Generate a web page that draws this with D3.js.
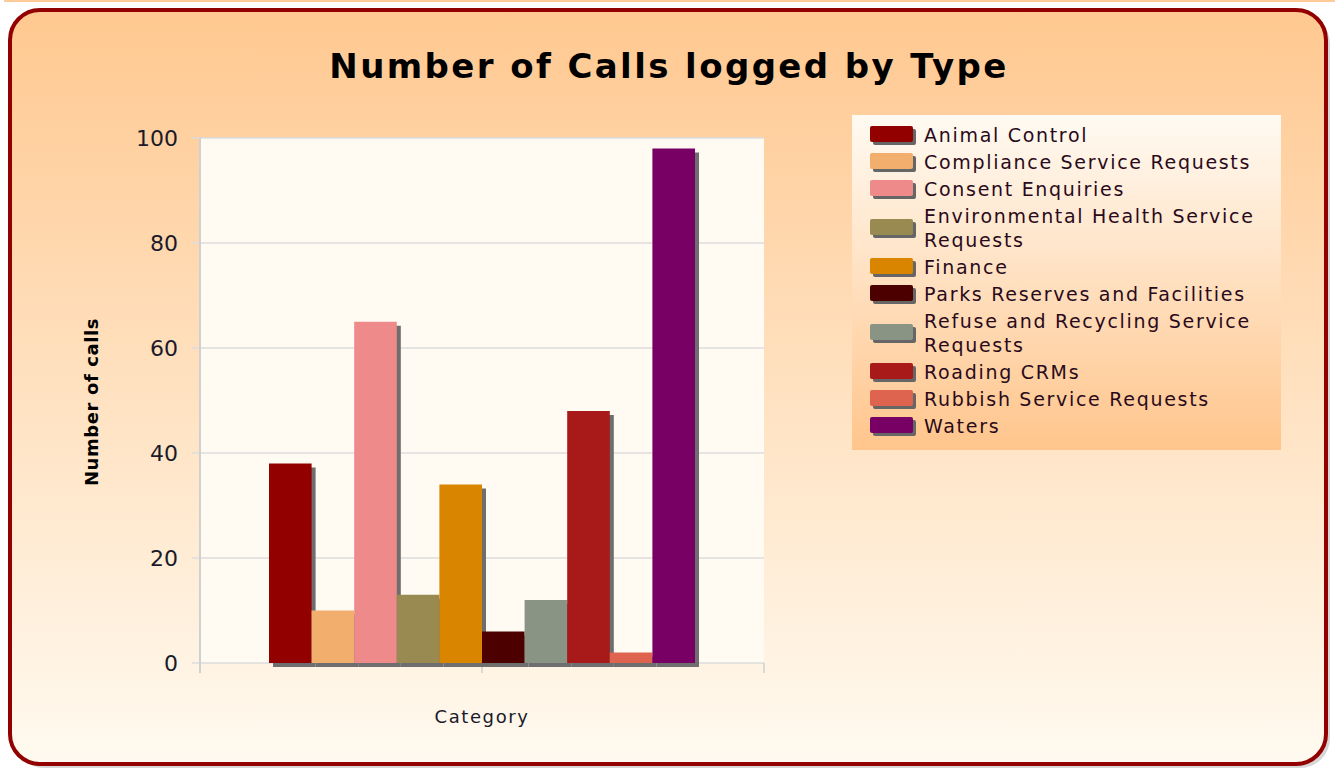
<!DOCTYPE html>
<html>
<head>
<meta charset="utf-8">
<script src="https://cdn.jsdelivr.net/npm/d3@7"></script>
<style>
  body { margin: 0; background: #fff; }
  text { font-family: "DejaVu Sans", Verdana, sans-serif; }
</style>
</head>
<body>
<div id="chart"></div>
<script>
// data
const categories = ['Animal Control', 'Compliance Service Requests', 'Consent Enquiries',
  'Environmental Health Service Requests', 'Finance', 'Parks Reserves and Facilities',
  'Refuse and Recycling Service Requests', 'Roading CRMs', 'Rubbish Service Requests', 'Waters'];
const values = [38, 10, 65, 13, 34, 6, 12, 48, 2, 98];
const colors = ['#920000', '#F2AE6C', '#EE8A8A', '#988A50', '#D98500', '#4D0000',
  '#8A9485', '#A81919', '#DE6450', '#780064'];
const legendLines = [['Animal Control'], ['Compliance Service Requests'], ['Consent Enquiries'],
  ['Environmental Health Service', 'Requests'], ['Finance'], ['Parks Reserves and Facilities'],
  ['Refuse and Recycling Service', 'Requests'], ['Roading CRMs'], ['Rubbish Service Requests'], ['Waters']];
const yTicks = [0, 20, 40, 60, 80, 100];

const W = 1335, H = 772;
const plot = {left: 200, top: 138, right: 764, bottom: 663};

const svg = d3.select('#chart').append('svg')
    .attr('width', W)
    .attr('height', H);

const defs = svg.append('defs');
const bgGrad = defs.append('linearGradient').attr('id', 'bg-grad')
    .attr('x1', 0).attr('y1', 0).attr('x2', 0).attr('y2', 1);
bgGrad.append('stop').attr('offset', 0).attr('stop-color', '#FFC890');
bgGrad.append('stop').attr('offset', 1).attr('stop-color', '#FFFAF0');

const legGrad = defs.append('linearGradient').attr('id', 'leg-grad')
    .attr('x1', 0).attr('y1', 0).attr('x2', 0).attr('y2', 1);
legGrad.append('stop').attr('offset', 0).attr('stop-color', '#FFFAF2');
legGrad.append('stop').attr('offset', 1).attr('stop-color', '#FFC58C');

// thin strip at the very top
svg.append('rect').attr('x', 4).attr('y', 0).attr('width', W - 4).attr('height', 2).attr('fill', '#FFCC99');

// card shadow + card
svg.append('rect')
    .attr('x', 14).attr('y', 14).attr('width', 1316).attr('height', 754)
    .attr('rx', 30).attr('fill', '#bbb').attr('opacity', 0.6);
svg.append('rect')
    .attr('x', 10).attr('y', 10).attr('width', 1316).attr('height', 754)
    .attr('rx', 30)
    .attr('fill', 'url(#bg-grad)')
    .attr('stroke', '#920000')
    .attr('stroke-width', 4);

// title
svg.append('text')
    .attr('x', 669).attr('y', 78)
    .attr('text-anchor', 'middle')
    .attr('font-size', 34).attr('font-weight', 'bold')
    .attr('letter-spacing', 2.4)
    .attr('fill', '#000')
    .text('Number of Calls logged by Type');

// scales
const y = d3.scaleLinear().domain([0, 100]).range([plot.bottom, plot.top]);
const x = d3.scaleBand().domain(categories)
    .range([269, 695]).padding(0);

// plot background
svg.append('rect')
    .attr('x', plot.left).attr('y', plot.top)
    .attr('width', plot.right - plot.left).attr('height', plot.bottom - plot.top)
    .attr('fill', '#FFFAF2');

// gridlines
svg.append('g').selectAll('line')
    .data(yTicks)
  .join('line')
    .attr('x1', plot.left - 8).attr('x2', plot.right)
    .attr('y1', d => y(d)).attr('y2', d => y(d))
    .attr('stroke', '#dcdcdc').attr('stroke-width', 1.5);

// y axis line
svg.append('line')
    .attr('x1', plot.left).attr('x2', plot.left)
    .attr('y1', plot.top).attr('y2', plot.bottom + 10)
    .attr('stroke', '#d0d0d0').attr('stroke-width', 2);

// x ticks
svg.append('g').selectAll('line')
    .data([plot.left, (plot.left + plot.right) / 2, plot.right])
  .join('line')
    .attr('x1', d => d).attr('x2', d => d)
    .attr('y1', plot.bottom).attr('y2', plot.bottom + 10)
    .attr('stroke', '#d0d0d0').attr('stroke-width', 1.5);

// y tick labels
svg.append('g').selectAll('text')
    .data(yTicks)
  .join('text')
    .attr('x', 178).attr('y', d => y(d))
    .attr('dy', '0.35em')
    .attr('text-anchor', 'end')
    .attr('font-size', 22)
    .attr('fill', '#1a1a2a')
    .text(d => d);

// bar shadows
svg.append('g').selectAll('rect')
    .data(values)
  .join('rect')
    .attr('x', (d, i) => x(categories[i]) + 4)
    .attr('y', d => y(d) + 4)
    .attr('width', x.bandwidth())
    .attr('height', d => y(0) - y(d))
    .attr('fill', '#6e6e6e');

// bars
svg.append('g').selectAll('rect')
    .data(values)
  .join('rect')
    .attr('x', (d, i) => x(categories[i]))
    .attr('y', d => y(d))
    .attr('width', x.bandwidth())
    .attr('height', d => y(0) - y(d))
    .attr('fill', (d, i) => colors[i]);

// axis titles
svg.append('text')
    .attr('x', 482).attr('y', 723)
    .attr('text-anchor', 'middle')
    .attr('font-size', 18)
    .attr('letter-spacing', 1.6)
    .attr('fill', '#1a1a2a')
    .text('Category');

svg.append('text')
    .attr('transform', 'translate(98,402) rotate(-90)')
    .attr('text-anchor', 'middle')
    .attr('font-size', 18).attr('font-weight', 'bold')
    .attr('letter-spacing', 0.6)
    .attr('fill', '#000')
    .text('Number of calls');

// legend
const legend = svg.append('g');
legend.append('rect')
    .attr('x', 852).attr('y', 115).attr('width', 429).attr('height', 335)
    .attr('fill', 'url(#leg-grad)');

let rowY = 135;
legendLines.forEach((lines, i) => {
  const cy = rowY + (lines.length - 1) * 12;
  legend.append('rect')
      .attr('x', 873).attr('y', cy - 6).attr('width', 43).attr('height', 16)
      .attr('rx', 2).attr('fill', '#666');
  legend.append('rect')
      .attr('x', 870).attr('y', cy - 9).attr('width', 43).attr('height', 16)
      .attr('rx', 2).attr('fill', colors[i]);
  const t = legend.append('text')
      .attr('x', 924).attr('y', rowY)
      .attr('font-size', 19)
      .attr('letter-spacing', 1.7)
      .attr('fill', '#2a0a1a');
  lines.forEach((ln, j) => {
    t.append('tspan').attr('x', 924).attr('dy', j === 0 ? '0.35em' : 24).text(ln);
  });
  rowY += 27 + (lines.length - 1) * 24;
});
</script>
</body>
</html>
